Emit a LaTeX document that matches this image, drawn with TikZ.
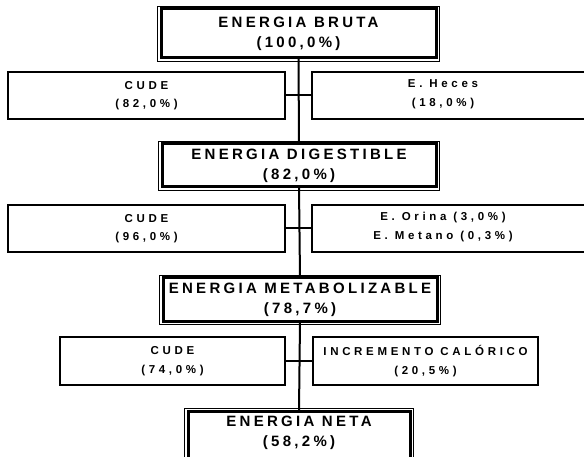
\documentclass[tikz,border=0pt]{standalone}
\usepackage{fontspec}
\newfontfamily\spcfont[LetterSpace=22]{Liberation Sans}
\newfontfamily\spcsmall[LetterSpace=32]{Liberation Sans}
\begin{document}
\begin{tikzpicture}[x=1pt,y=-1pt,
  bigtxt/.style={font=\spcfont\bfseries\fontsize{15}{20}\selectfont, align=center},
  smalltxt/.style={font=\spcsmall\bfseries\fontsize{11.5}{18.5}\selectfont, align=center},
  mainbox/.style={draw, line width=3pt, outer sep=0pt, inner sep=0pt, bigtxt},
  sidebox/.style={draw, line width=2pt, outer sep=0pt, inner sep=0pt, smalltxt},
  thinframe/.style={line width=0.8pt},
  spine/.style={line width=2pt}]
\useasboundingbox (0,0) rectangle (584,457);
\clip (0,0) rectangle (584,457);

% main boxes
\node[mainbox, minimum width=275pt, minimum height=49pt] (b1) at (298.5,33.5) {ENERGIA BRUTA\\(100,0\%)};
\node[mainbox, minimum width=274pt, minimum height=43pt] (b3) at (299,165.5) {ENERGIA DIGESTIBLE\\(82,0\%)};
\node[mainbox, minimum width=274pt, minimum height=43pt] (b5) at (300,299.5) {ENERGIA METABOLIZABLE\\(78,7\%)};
\node[mainbox, minimum width=222pt, minimum height=51pt] (b7) at (299,436.5) {};
\node[bigtxt] (t7) at (299,433) {ENERGIA NETA\\(58,2\%)};

\foreach \b in {b1,b3,b5,b7}
  \draw[thinframe] ([shift={(-3.5,-2.5)}]\b.north west) rectangle ([shift={(3,3.5)}]\b.south east);

% spine
\draw[spine] (b1.south) -- (b3.north);
\draw[spine] (b3.south) -- (b5.north);
\draw[spine] (b5.south) -- (b7.north);

% row 2
\node[sidebox, minimum width=277pt, minimum height=47pt] (l2) at (146.5,95.5) {CUDE\\(82,0\%)};
\node[sidebox, minimum width=280pt, minimum height=47pt] (r2) at (452,95.5) {};
\node[smalltxt] (rt2) at (443,94) {E. Heces\\(18,0\%)};
\draw[spine] (l2.east) -- (r2.west);

% row 4
\node[sidebox, minimum width=277pt, minimum height=47pt] (l4) at (146.5,228.5) {CUDE\\(96,0\%)};
\node[sidebox, minimum width=280pt, minimum height=47pt] (r4) at (452,228.5) {};
\node[smalltxt] (rt4) at (443,227) {E. Orina (3,0\%)\\E. Metano (0,3\%)};
\draw[spine] (l4.east) -- (r4.west);

% row 6
\node[sidebox, minimum width=225pt, minimum height=48pt] (l6) at (172.5,361) {CUDE\\(74,0\%)};
\node[sidebox, minimum width=225pt, minimum height=48pt] (r6) at (425.5,361) {INCREMENTO CALÓRICO\\(20,5\%)};
\draw[spine] (l6.east) -- (r6.west);
\end{tikzpicture}
\end{document}
